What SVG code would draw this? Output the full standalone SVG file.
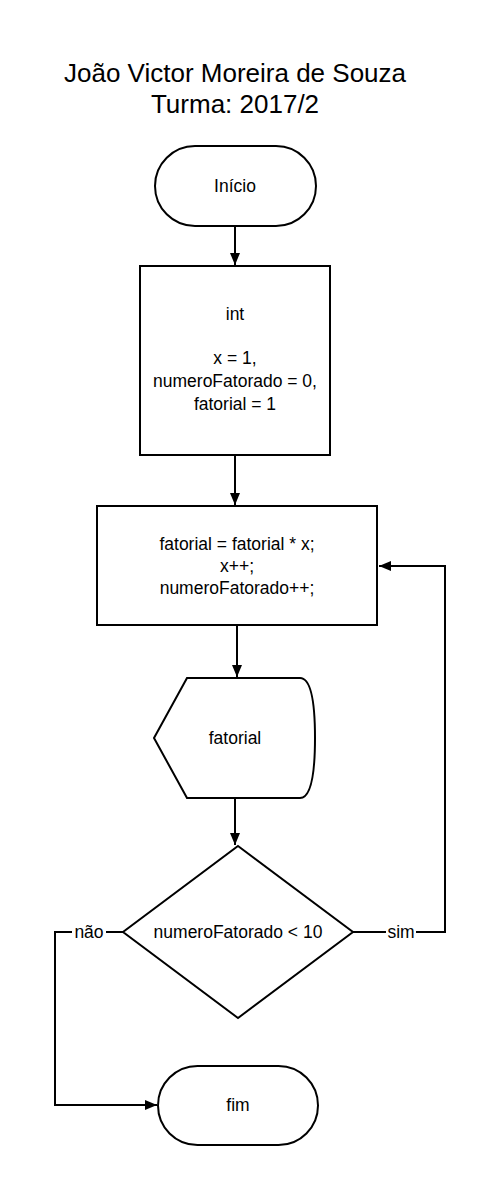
<svg xmlns="http://www.w3.org/2000/svg" width="486" height="1186" viewBox="0 0 486 1186">
<style>
.s{fill:#fff;stroke:#000;stroke-width:2}
.t{font-family:"Liberation Sans",Arial,sans-serif;font-size:17.5px;fill:#000;text-anchor:middle;dominant-baseline:central}
.h{font-family:"Liberation Sans",Arial,sans-serif;font-size:26px;fill:#000;text-anchor:middle}
.c{fill:none;stroke:#000;stroke-width:2}
.lb{font-family:"Liberation Sans",Arial,sans-serif;font-size:17.5px;fill:#000;text-anchor:middle;dominant-baseline:central}
</style>
<defs>
<marker id="a" viewBox="0 0 12 10" refX="12" refY="5" markerWidth="12" markerHeight="10" markerUnits="userSpaceOnUse" orient="auto">
<path d="M0,0 L12,5 L0,10 z" fill="#000"/>
</marker>
</defs>
<rect width="486" height="1186" fill="#fff"/>
<g id="title">
<text class="h" x="235" y="82">João Victor Moreira de Souza</text>
<text class="h" x="235" y="113">Turma: 2017/2</text>
</g>
<g id="connectors">
<line class="c" x1="235" y1="226" x2="235" y2="265" marker-end="url(#a)"/>
<line class="c" x1="235" y1="455" x2="235" y2="505" marker-end="url(#a)"/>
<line class="c" x1="237" y1="625" x2="237" y2="677" marker-end="url(#a)"/>
<line class="c" x1="235" y1="798" x2="235" y2="845" marker-end="url(#a)"/>
<polyline class="c" points="353,932 445,932 445,566 379,566" marker-end="url(#a)"/>
<polyline class="c" points="123,932 55,932 55,1105 157,1105" marker-end="url(#a)"/>
<rect x="386" y="922" width="30" height="20" fill="#fff"/>
<text class="lb" x="401" y="932">sim</text>
<rect x="72" y="922" width="34" height="20" fill="#fff"/>
<text class="lb" x="89" y="932">não</text>
</g>
<g id="inicio">
<rect class="s" x="155" y="146" width="161" height="80" rx="40"/>
<text class="t" x="235" y="186">Início</text>
</g>
<g id="decl">
<rect class="s" x="140" y="266" width="190" height="189"/>
<text class="t" x="235" y="314">int</text>
<text class="t" x="235" y="358">x = 1,</text>
<text class="t" x="235" y="381">numeroFatorado = 0,</text>
<text class="t" x="235" y="404">fatorial = 1</text>
</g>
<g id="calc">
<rect class="s" x="97" y="506" width="280" height="119"/>
<text class="t" x="237" y="544">fatorial = fatorial * x;</text>
<text class="t" x="237" y="566">x++;</text>
<text class="t" x="237" y="588">numeroFatorado++;</text>
</g>
<g id="display">
<path class="s" d="M187,678 L300,678 Q315,678 315,738 Q315,798 300,798 L187,798 L154,738 Z"/>
<text class="t" x="235" y="738">fatorial</text>
</g>
<g id="decisao">
<polygon class="s" points="238,846 353,932 238,1018 123,932"/>
<text class="t" x="238" y="932">numeroFatorado &lt; 10</text>
</g>
<g id="fim">
<rect class="s" x="158" y="1066" width="160" height="79" rx="39.5"/>
<text class="t" x="238" y="1105">fim</text>
</g>
</svg>
